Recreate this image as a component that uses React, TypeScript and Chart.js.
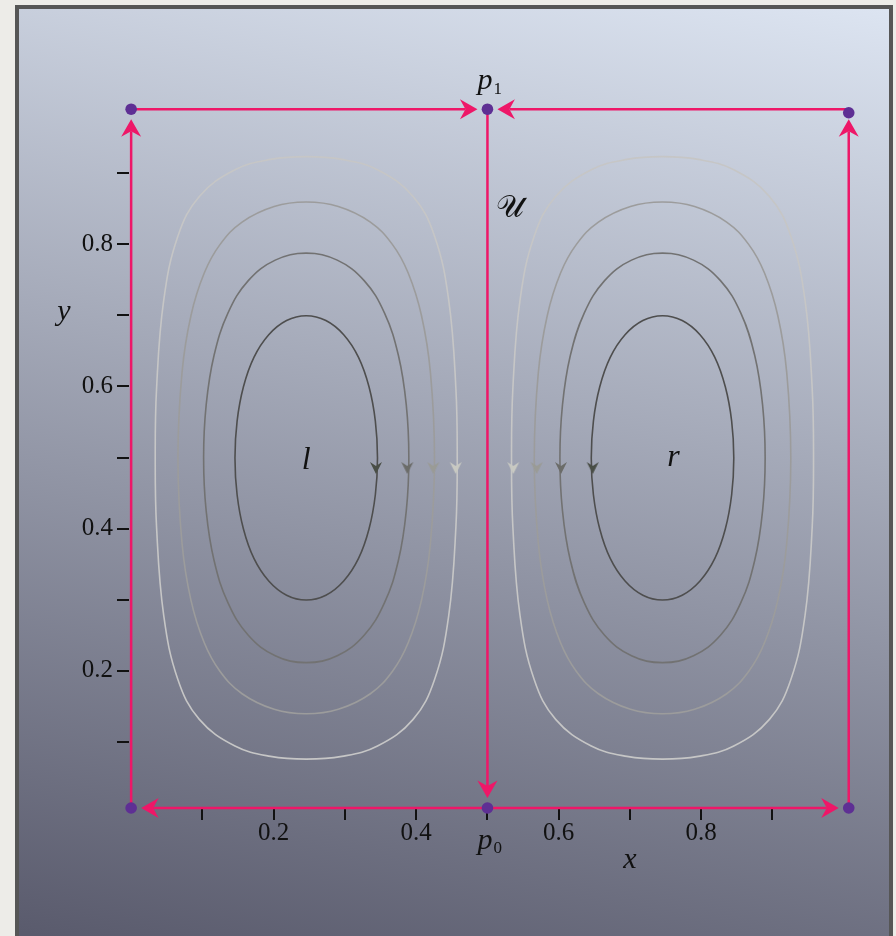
import React, { useEffect, useRef } from 'react';
import { Chart, registerables } from 'chart.js';

Chart.register(...registerables);

// ---------- axis ticks ----------
const xTickValues = [0.1, 0.2, 0.3, 0.4, 0.5, 0.6, 0.7, 0.8, 0.9];
const xTickLabels = ['', '0.2', '', '0.4', '', '0.6', '', '0.8', ''];
const yTickValues = [0.1, 0.2, 0.3, 0.4, 0.5, 0.6, 0.7, 0.8, 0.9];
const yTickLabels = ['', '0.2', '', '0.4', '', '0.6', '', '0.8', ''];

// ---------- boundary nodes (purple dots) ----------
const nodeX = [0, 0.5, 1.007, 0, 0.5, 1.007];
const nodeY = [0.007, 0.007, 0.007, 0.99, 0.99, 0.985];

// ---------- boundary arrows (from -> to) ----------
const arrowFromX = [0, 0, 1.007, 1.007, 0.5, 0.5, 0.5];
const arrowFromY = [0.007, 0.99, 0.99, 0.007, 0.99, 0.007, 0.007];
const arrowToX = [0, 0.5, 0.5, 1.007, 0.5, 0, 1.007];
const arrowToY = [0.99, 0.99, 0.99, 0.99, 0.007, 0.007, 0.007];

// ---------- streamline cells ----------
const cellCenterX = [0.2457, 0.7457];
const cellCenterY = [0.4995, 0.4995];

// quarter-contour offsets (u, v) from the cell centre (inner -> outer)
const level1U = [0.1, 0.097, 0.0881, 0.0734, 0.0526, 0.0276, 0];
const level1V = [0, 0.0518, 0.1, 0.1414, 0.1732, 0.1932, 0.2];
const level2U = [0.144, 0.1404, 0.1294, 0.1099, 0.0813, 0.0435, 0];
const level2V = [0, 0.0745, 0.144, 0.2036, 0.2494, 0.2782, 0.288];
const level3U = [0.18, 0.1743, 0.1618, 0.1431, 0.1211, 0.09, 0.045, 0];
const level3V = [0, 0.12, 0.2, 0.26, 0.3, 0.3318, 0.3537, 0.36];
const level4U = [0.2119, 0.21, 0.2, 0.18, 0.15, 0.1, 0.05, 0];
const level4V = [0, 0.098, 0.2216, 0.3121, 0.3678, 0.4053, 0.4199, 0.4238];

// flow-direction arrowheads on the streamlines (inner -> outer)
const leftFlowX = [0.3436, 0.3875, 0.424, 0.4555];
const rightFlowX = [0.6477, 0.6032, 0.5691, 0.5363];
const flowY = [0.4853, 0.4853, 0.4853, 0.4853];

// ---------- styles ----------
const PINK = '#ee1768';
const PURPLE = '#5e2f94';
const streamColors = ['#4e4e4e', '#727272', '#9c9c9c', '#c6c6c6'];
const flowColors = ['#494e46', '#6b6c69', '#9a9b96', '#c8c9c2'];
const SERIF = "'Liberation Serif', 'Times New Roman', serif";

type Pt = { x: number; y: number };

function closedLoop(cx: number, cy: number, us: number[], vs: number[]): Pt[] {
  const pts: Pt[] = [];
  const n = us.length;
  for (let i = 0; i < n; i++) pts.push({ x: cx + us[i], y: cy + vs[i] });
  for (let i = n - 2; i >= 0; i--) pts.push({ x: cx - us[i], y: cy + vs[i] });
  for (let i = 1; i < n; i++) pts.push({ x: cx - us[i], y: cy - vs[i] });
  for (let i = n - 2; i >= 1; i--) pts.push({ x: cx + us[i], y: cy - vs[i] });
  // wrap so every drawn piece has proper neighbours
  return [pts[pts.length - 1], ...pts, pts[0], pts[1]];
}

// small notched arrowhead (pointing down) used as a point style
function dartImage(color: string): HTMLCanvasElement {
  const c = document.createElement('canvas');
  c.width = 14;
  c.height = 14;
  const g = c.getContext('2d')!;
  g.fillStyle = color;
  g.beginPath();
  g.moveTo(7, 13);
  g.lineTo(1, 1);
  g.lineTo(7, 5);
  g.lineTo(13, 1);
  g.closePath();
  g.fill();
  return c;
}

const panelPlugin = {
  id: 'panel',
  beforeDraw(chart: any) {
    const { ctx, width, height } = chart;
    ctx.save();
    ctx.fillStyle = '#edece8';
    ctx.fillRect(0, 0, width, height);
    ctx.fillStyle = '#565656';
    ctx.fillRect(15, 5, 878, height + 10);
    const g = ctx.createLinearGradient(560, -55, 350, 997);
    g.addColorStop(0, '#dce4f1');
    g.addColorStop(1, '#5a5b6d');
    ctx.fillStyle = g;
    ctx.fillRect(19, 9, 870, height + 10);
    ctx.restore();
  },
};

const boundaryArrowPlugin = {
  id: 'boundaryArrows',
  beforeDatasetDraw(chart: any, args: any) {
    if (args.index !== 0) return;
    const { ctx } = chart;
    const xs = chart.scales.x;
    const ys = chart.scales.y;
    ctx.save();
    ctx.strokeStyle = PINK;
    ctx.fillStyle = PINK;
    ctx.lineWidth = 2.5;
    for (let i = 0; i < arrowFromX.length; i++) {
      const x0 = xs.getPixelForValue(arrowFromX[i]);
      const y0 = ys.getPixelForValue(arrowFromY[i]);
      const x1 = xs.getPixelForValue(arrowToX[i]);
      const y1 = ys.getPixelForValue(arrowToY[i]);
      const len = Math.hypot(x1 - x0, y1 - y0);
      const ux = (x1 - x0) / len;
      const uy = (y1 - y0) / len;
      const tipX = x1 - ux * 10;
      const tipY = y1 - uy * 10;
      const notchX = tipX - ux * 12;
      const notchY = tipY - uy * 12;
      const baseX = tipX - ux * 17.5;
      const baseY = tipY - uy * 17.5;
      const px = -uy;
      const py = ux;
      ctx.beginPath();
      ctx.moveTo(x0, y0);
      ctx.lineTo(notchX, notchY);
      ctx.stroke();
      ctx.beginPath();
      ctx.moveTo(tipX, tipY);
      ctx.lineTo(baseX + px * 10, baseY + py * 10);
      ctx.lineTo(notchX, notchY);
      ctx.lineTo(baseX - px * 10, baseY - py * 10);
      ctx.closePath();
      ctx.fill();
    }
    ctx.restore();
  },
};

const labelPlugin = {
  id: 'labels',
  afterDraw(chart: any) {
    const { ctx, chartArea } = chart;
    const xs = chart.scales.x;
    const ys = chart.scales.y;
    const italic = (size: number) => `italic ${size}px ${SERIF}`;
    const upright = (size: number) => `${size}px ${SERIF}`;
    ctx.save();
    ctx.fillStyle = '#111';
    ctx.textBaseline = 'alphabetic';

    // cell labels
    ctx.textAlign = 'center';
    ctx.font = italic(32);
    ctx.fillText('l', xs.getPixelForValue(cellCenterX[0]), ys.getPixelForValue(cellCenterY[0]) + 11);
    ctx.fillText('r', xs.getPixelForValue(cellCenterX[1]) + 11, ys.getPixelForValue(cellCenterY[1]) + 8);

    // script U next to the dividing line
    ctx.textAlign = 'left';
    ctx.font = `31px 'DejaVu Serif', 'DejaVu Sans', ${SERIF}`;
    ctx.fillText('𝒰', xs.getPixelForValue(0.5) + 9, ys.getPixelForValue(0.838));

    // p1 / p0
    const pX = xs.getPixelForValue(0.5) - 10;
    ctx.font = italic(30);
    ctx.fillText('p', pX, ys.getPixelForValue(0.99) - 20);
    ctx.fillText('p', pX, chartArea.bottom + 41);
    ctx.font = upright(17);
    ctx.fillText('1', pX + 16, ys.getPixelForValue(0.99) - 15);
    ctx.fillText('0', pX + 16, chartArea.bottom + 45);

    // axis names
    ctx.textAlign = 'center';
    ctx.font = italic(30);
    ctx.fillText('x', xs.getPixelForValue(0.7), chartArea.bottom + 60);
    ctx.fillText('y', chartArea.left - 65, ys.getPixelForValue(0.7) + 5);
    ctx.restore();
  },
};

export default function App() {
  const canvasRef = useRef<HTMLCanvasElement | null>(null);

  useEffect(() => {
    const canvas = canvasRef.current;
    if (!canvas) return;

    const levels = [
      [level1U, level1V],
      [level2U, level2V],
      [level3U, level3V],
      [level4U, level4V],
    ];

    const streamDatasets: any[] = [];
    cellCenterX.forEach((cx, c) => {
      levels.forEach(([us, vs], k) => {
        const data = closedLoop(cx, cellCenterY[c], us, vs);
        const last = data.length - 1;
        streamDatasets.push({
          data,
          borderColor: streamColors[k],
          borderWidth: 1.6,
          tension: 0.4,
          pointRadius: 0,
          fill: false,
          clip: false,
          segment: {
            borderColor: (s: any) =>
              s.p0DataIndex === 0 || s.p1DataIndex === last ? 'rgba(0,0,0,0)' : undefined,
          },
        });
      });
    });

    const darts = flowColors.map((col) => dartImage(col));
    const flowPoints: Pt[] = [];
    const flowStyles: HTMLCanvasElement[] = [];
    leftFlowX.forEach((x, k) => {
      flowPoints.push({ x, y: flowY[k] });
      flowStyles.push(darts[k]);
    });
    rightFlowX.forEach((x, k) => {
      flowPoints.push({ x, y: flowY[k] });
      flowStyles.push(darts[k]);
    });

    const nodes = nodeX.map((x, i) => ({ x, y: nodeY[i] }));

    const chart = new Chart(canvas, {
      type: 'line',
      data: {
        datasets: [
          {
            data: nodes,
            showLine: false,
            pointRadius: 5.8,
            pointBackgroundColor: PURPLE,
            pointBorderWidth: 0,
            clip: false,
          },
          {
            data: flowPoints,
            showLine: false,
            pointStyle: flowStyles,
            pointRadius: 7,
            pointBorderWidth: 0,
            clip: false,
          },
          ...streamDatasets,
        ],
      },
      options: {
        responsive: false,
        animation: false,
        devicePixelRatio: 1,
        events: [],
        layout: { padding: { top: 95, right: 38, left: 0, bottom: 0 } },
        plugins: {
          legend: { display: false },
          tooltip: { enabled: false },
          title: { display: false },
        },
        scales: {
          x: {
            type: 'linear',
            min: -0.003,
            max: 1.02,
            afterBuildTicks: (scale: any) => {
              scale.ticks = xTickValues.map((v) => ({ value: v }));
            },
            afterFit: (scale: any) => {
              scale.height = 128;
            },
            border: { display: false },
            grid: {
              display: true,
              drawOnChartArea: false,
              drawTicks: true,
              tickLength: 12,
              color: '#111',
              lineWidth: 2,
            },
            ticks: {
              autoSkip: false,
              maxRotation: 0,
              minRotation: 0,
              padding: 0,
              color: '#111',
              font: { family: SERIF, size: 25, lineHeight: 1.08 },
              callback: (_v: any, i: number) => xTickLabels[i],
            },
          },
          y: {
            type: 'linear',
            min: 0.007,
            max: 1.01,
            afterBuildTicks: (scale: any) => {
              scale.ticks = yTickValues.map((v) => ({ value: v }));
            },
            afterFit: (scale: any) => {
              scale.width = 129;
            },
            border: { display: false },
            grid: {
              display: true,
              drawOnChartArea: false,
              drawTicks: true,
              tickLength: 12,
              color: '#111',
              lineWidth: 2,
            },
            ticks: {
              autoSkip: false,
              padding: 4,
              color: '#111',
              font: { family: SERIF, size: 25, lineHeight: 1.08 },
              callback: (_v: any, i: number) => yTickLabels[i],
            },
          },
        },
      } as any,
      plugins: [panelPlugin, boundaryArrowPlugin, labelPlugin],
    });

    return () => chart.destroy();
  }, []);

  return (
    <div
      style={{
        position: 'fixed',
        left: 0,
        top: 0,
        width: 896,
        height: 936,
        overflow: 'hidden',
        background: '#edece8',
      }}
    >
      <canvas ref={canvasRef} width={896} height={936} style={{ display: 'block' }} />
    </div>
  );
}
